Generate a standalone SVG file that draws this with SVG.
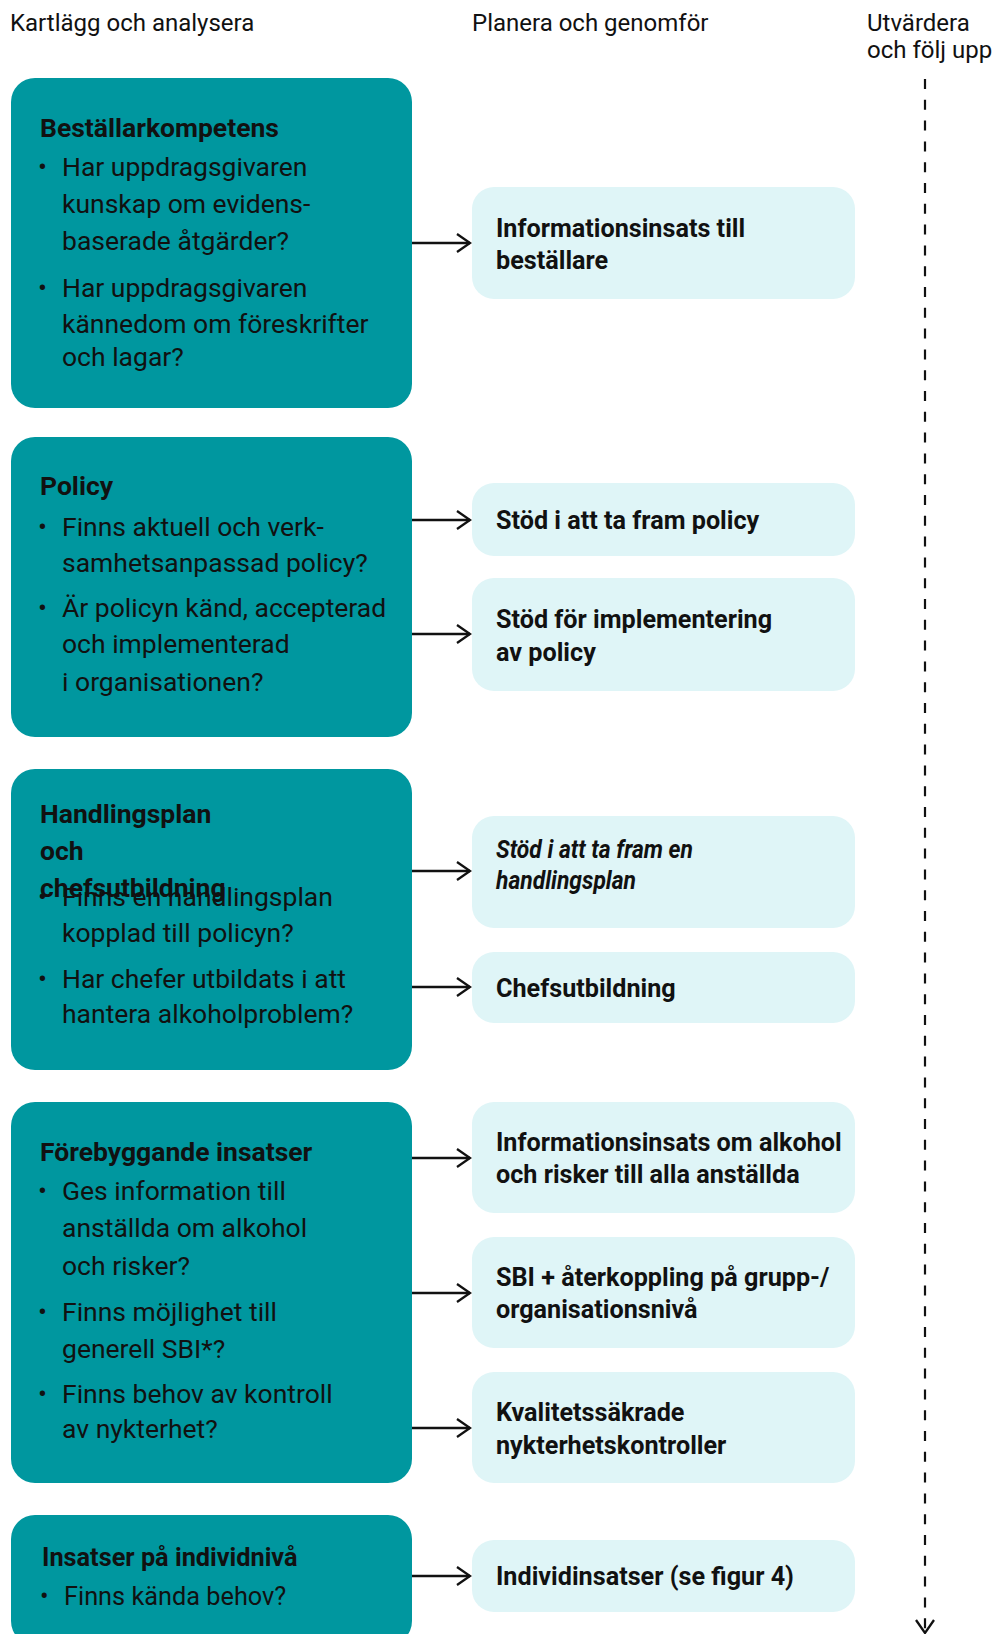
<svg xmlns="http://www.w3.org/2000/svg" width="992" height="1634" viewBox="0 0 992 1634">
  <defs>
    <style>
      .hdr { font-family: Roboto, "Liberation Sans", sans-serif; font-size: 24px; fill: #111; }
      .dark { fill: #00979F; }
      .light { fill: #DFF5F7; }
      .ttl { font-family: Roboto, "Liberation Sans", sans-serif; font-size: 26.5px; font-weight: 700; fill: #111; }
      .bul { font-family: Roboto, "Liberation Sans", sans-serif; font-size: 26.5px; font-weight: 400; fill: #111; }
      .sm { font-size: 25.3px; }
      .act { font-family: Roboto, "Liberation Sans", sans-serif; font-size: 25.2px; font-weight: 700; fill: #111; }
      .acti { font-family: Roboto, "Liberation Sans", sans-serif; font-size: 25px; font-weight: 700; font-style: italic; fill: #111; }
      .conn { stroke: #111; stroke-width: 2.3; fill: none; }
      .dash { stroke: #111; stroke-width: 2.2; fill: none; stroke-dasharray: 10 10.8; }
    </style>
    <marker id="chev" markerUnits="userSpaceOnUse" markerWidth="16" markerHeight="22" refX="14" refY="10" orient="auto" viewBox="0 0 16 22">
      <path d="M1,1 L14,10 L1,19" fill="none" stroke="#111" stroke-width="2.3"/>
    </marker>
  </defs>

  <g id="headers">
    <text class="hdr" x="10" y="31">Kartlägg och analysera</text>
    <text class="hdr" x="472" y="31">Planera och genomför</text>
    <text class="hdr" x="867" y="31">Utvärdera</text>
    <text class="hdr" x="867" y="58">och följ upp</text>
  </g>

  <g id="connectors">
    <line class="conn" x1="412" y1="243" x2="470" y2="243" marker-end="url(#chev)"/>
    <line class="conn" x1="412" y1="520" x2="470" y2="520" marker-end="url(#chev)"/>
    <line class="conn" x1="412" y1="634" x2="470" y2="634" marker-end="url(#chev)"/>
    <line class="conn" x1="412" y1="871" x2="470" y2="871" marker-end="url(#chev)"/>
    <line class="conn" x1="412" y1="987" x2="470" y2="987" marker-end="url(#chev)"/>
    <line class="conn" x1="412" y1="1158" x2="470" y2="1158" marker-end="url(#chev)"/>
    <line class="conn" x1="412" y1="1293" x2="470" y2="1293" marker-end="url(#chev)"/>
    <line class="conn" x1="412" y1="1428" x2="470" y2="1428" marker-end="url(#chev)"/>
    <line class="conn" x1="412" y1="1576" x2="470" y2="1576" marker-end="url(#chev)"/>
    <line class="dash" x1="925" y1="79" x2="925" y2="1633" marker-end="url(#chev)"/>
  </g>

  <g id="n-bestallarkompetens">
    <rect class="dark" x="11" y="78" width="401" height="330" rx="24"/>
    <text class="ttl" x="40" y="137">Beställarkompetens</text>
    <text class="bul" x="38" y="176">•</text>
    <text class="bul" x="62" y="176">Har uppdragsgivaren</text>
    <text class="bul" x="62" y="213">kunskap om evidens-</text>
    <text class="bul" x="62" y="250">baserade åtgärder?</text>
    <text class="bul" x="38" y="297">•</text>
    <text class="bul" x="62" y="297">Har uppdragsgivaren</text>
    <text class="bul" x="62" y="333">kännedom om föreskrifter</text>
    <text class="bul" x="62" y="366">och lagar?</text>
  </g>

  <g id="n-policy">
    <rect class="dark" x="11" y="437" width="401" height="300" rx="24"/>
    <text class="ttl" x="40" y="495">Policy</text>
    <text class="bul" x="38" y="536">•</text>
    <text class="bul" x="62" y="536">Finns aktuell och verk-</text>
    <text class="bul" x="62" y="572">samhetsanpassad policy?</text>
    <text class="bul" x="38" y="617">•</text>
    <text class="bul" x="62" y="617">Är policyn känd, accepterad</text>
    <text class="bul" x="62" y="653">och implementerad</text>
    <text class="bul" x="62" y="691">i organisationen?</text>
  </g>

  <g id="n-handlingsplan">
    <rect class="dark" x="11" y="769" width="401" height="301" rx="24"/>
    <text class="ttl" x="40" y="823">Handlingsplan</text>
    <text class="ttl" x="40" y="860">och</text>
    <text class="ttl" x="40" y="897">chefsutbildning</text>
    <text class="bul" x="38" y="906">•</text>
    <text class="bul" x="62" y="906">Finns en handlingsplan</text>
    <text class="bul" x="62" y="942">kopplad till policyn?</text>
    <text class="bul" x="38" y="988">•</text>
    <text class="bul" x="62" y="988">Har chefer utbildats i att</text>
    <text class="bul" x="62" y="1023">hantera alkoholproblem?</text>
  </g>

  <g id="n-forebyggande">
    <rect class="dark" x="11" y="1102" width="401" height="381" rx="24"/>
    <text class="ttl" x="40" y="1161">Förebyggande insatser</text>
    <text class="bul" x="38" y="1200">•</text>
    <text class="bul" x="62" y="1200">Ges information till</text>
    <text class="bul" x="62" y="1237">anställda om alkohol</text>
    <text class="bul" x="62" y="1275">och risker?</text>
    <text class="bul" x="38" y="1321">•</text>
    <text class="bul" x="62" y="1321">Finns möjlighet till</text>
    <text class="bul" x="62" y="1358">generell SBI*?</text>
    <text class="bul" x="38" y="1403">•</text>
    <text class="bul" x="62" y="1403">Finns behov av kontroll</text>
    <text class="bul" x="62" y="1438">av nykterhet?</text>
  </g>

  <g id="n-individniva">
    <rect class="dark" x="11" y="1515" width="401" height="130" rx="24"/>
    <text class="ttl sm" x="42" y="1566">Insatser på individnivå</text>
    <text class="bul sm" x="40" y="1605">•</text>
    <text class="bul sm" x="64" y="1605">Finns kända behov?</text>
  </g>

  <g id="a-info-bestallare">
    <rect class="light" x="472" y="187" width="383" height="112" rx="22"/>
    <text class="act" x="496" y="237">Informationsinsats till</text>
    <text class="act" x="496" y="269">beställare</text>
  </g>

  <g id="a-stod-policy">
    <rect class="light" x="472" y="483" width="383" height="73" rx="22"/>
    <text class="act" x="496" y="529">Stöd i att ta fram policy</text>
  </g>

  <g id="a-impl-policy">
    <rect class="light" x="472" y="578" width="383" height="113" rx="22"/>
    <text class="act" x="496" y="628">Stöd för implementering</text>
    <text class="act" x="496" y="661">av policy</text>
  </g>

  <g id="a-handlingsplan">
    <rect class="light" x="472" y="816" width="383" height="112" rx="22"/>
    <text class="acti" x="496" y="858" textLength="197" lengthAdjust="spacingAndGlyphs">Stöd i att ta fram en</text>
    <text class="acti" x="496" y="889" textLength="140" lengthAdjust="spacingAndGlyphs">handlingsplan</text>
  </g>

  <g id="a-chefsutbildning">
    <rect class="light" x="472" y="952" width="383" height="71" rx="22"/>
    <text class="act" x="496" y="997">Chefsutbildning</text>
  </g>

  <g id="a-info-alkohol">
    <rect class="light" x="472" y="1102" width="383" height="111" rx="22"/>
    <text class="act" x="496" y="1151">Informationsinsats om alkohol</text>
    <text class="act" x="496" y="1183">och risker till alla anställda</text>
  </g>

  <g id="a-sbi">
    <rect class="light" x="472" y="1237" width="383" height="111" rx="22"/>
    <text class="act" x="496" y="1286">SBI + återkoppling på grupp-/</text>
    <text class="act" x="496" y="1318">organisationsnivå</text>
  </g>

  <g id="a-nykterhet">
    <rect class="light" x="472" y="1372" width="383" height="111" rx="22"/>
    <text class="act" x="496" y="1421">Kvalitetssäkrade</text>
    <text class="act" x="496" y="1454">nykterhetskontroller</text>
  </g>

  <g id="a-individinsatser">
    <rect class="light" x="472" y="1540" width="383" height="72" rx="22"/>
    <text class="act" x="496" y="1585">Individinsatser (se figur 4)</text>
  </g>
</svg>
